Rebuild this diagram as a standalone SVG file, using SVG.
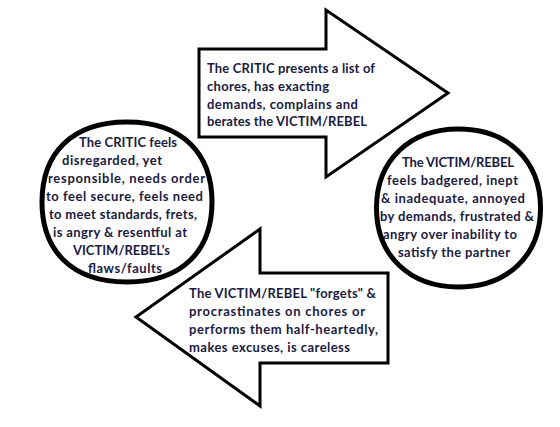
<svg xmlns="http://www.w3.org/2000/svg" width="560" height="427" viewBox="0 0 560 427">
<style>
.arrow{fill:#fff;stroke:#000;stroke-width:3;stroke-linejoin:miter}
.node{fill:#fff;stroke:#000;stroke-width:5}
text{font-family:Lato,"Open Sans","Liberation Sans",sans-serif;font-weight:bold;font-size:13px;fill:#1b1b3f}
</style>
<rect width="560" height="427" fill="#fff"/>
<g id="connectors">
<g id="arrow-top">
<polygon class="arrow" points="199,49 326,49 326,10 448,93 326,177 326,137 199,137"/>
<text x="207" y="73" textLength="168">The CRITIC presents a list of</text>
<text x="207" y="91" textLength="122">chores, has exacting</text>
<text x="207" y="108.5" textLength="151">demands, complains and</text>
<text x="207" y="126" textLength="160">berates the VICTIM/REBEL</text>
</g>
<g id="arrow-bottom">
<polygon class="arrow" points="388,273 260,273 260,229 136,317 260,406 260,363 388,363"/>
<text x="189" y="298" textLength="187">The VICTIM/REBEL "forgets" &amp;</text>
<text x="189" y="316" textLength="176">procrastinates on chores or</text>
<text x="189" y="334" textLength="189">performs them half-heartedly,</text>
<text x="189" y="352" textLength="161">makes excuses, is careless</text>
</g>
</g>
<g id="critic">
<path class="node" d="M212,202 C212,250 183,282 127,282 C71,282 42,250 42,202 C42,154 71,122 127,122 C183,122 212,154 212,202 Z"/>
<text x="79" y="147" textLength="98">The CRITIC feels</text>
<text x="62" y="165" textLength="100">disregarded, yet</text>
<text x="48" y="183" textLength="157">responsible, needs order</text>
<text x="46" y="201" textLength="157">to feel secure, feels need</text>
<text x="49" y="219" textLength="148">to meet standards, frets,</text>
<text x="53" y="237" textLength="134">is angry &amp; resentful at</text>
<text x="73" y="255" textLength="97">VICTIM/REBEL's</text>
<text x="88" y="273" textLength="74">flaws/faults</text>
</g>
<g id="victim">
<path class="node" d="M540.5,208 C540.5,255.4 507.7,287 458.5,287 C409.3,287 376.5,255.4 376.5,208 C376.5,160.6 409.3,129 458.5,129 C507.7,129 540.5,160.6 540.5,208 Z"/>
<text x="402" y="167" textLength="112">The VICTIM/REBEL</text>
<text x="387" y="185" textLength="131">feels badgered, inept</text>
<text x="381" y="203" textLength="144">&amp; inadequate, annoyed</text>
<text x="380" y="221" textLength="154">by demands, frustrated &amp;</text>
<text x="383" y="239" textLength="134">angry over inability to</text>
<text x="398" y="257" textLength="112">satisfy the partner</text>
</g>
</svg>
